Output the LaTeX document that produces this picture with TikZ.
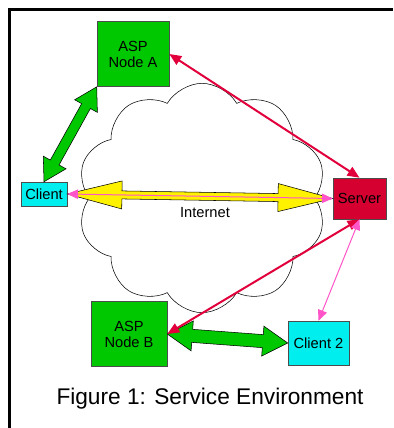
\documentclass[tikz,border=0pt]{standalone}
\usepackage{fontspec}
\setmainfont{Liberation Sans}
\usetikzlibrary{arrows.meta}
\usetikzlibrary{shapes.symbols}
\definecolor{aspgreen}{RGB}{0,200,0}
\definecolor{clientcyan}{RGB}{0,238,238}
\definecolor{servercrimson}{RGB}{214,0,48}
\definecolor{linkred}{RGB}{225,0,60}
\definecolor{linkpink}{RGB}{255,85,200}
\newcommand{\NodeAngle}[2]{%
    \pgfmathanglebetweenpoints%
        {\pgfpointanchor{#1}{center}}%
        {\pgfpointanchor{#2}{center}}%
        \global\let\MyAngle\pgfmathresult
}
\makeatletter
\newcommand{\NodeDist}[2]{%
    \pgfpointdiff{\pgfpointanchor{#1}{center}}
                 {\pgfpointanchor{#2}{center}}
    \pgf@xa=\pgf@x
    \pgf@ya=\pgf@y
    % distance kept in pt
    \pgfmathparse{veclen(\pgf@xa,\pgf@ya)}
    \global\let\MyDist\pgfmathresult
}
\makeatother
% block arrow: start, end, shaft half width, head half width, head length, fill
\newcommand{\BlockArrow}[6]{%
    \NodeDist{#1}{#2}
    \NodeAngle{#1}{#2}
    \pgfmathsetmacro{\Lb}{\MyDist-#5}
    \begin{scope}[shift={(#1)},rotate=\MyAngle]
    \draw[fill=#6,line join=miter] (0,0) -- (#5pt,#4pt) -- (#5pt,#3pt)
        -- (\Lb pt,#3pt) -- (\Lb pt,#4pt) -- (\MyDist pt,0)
        -- (\Lb pt,-#4pt) -- (\Lb pt,-#3pt)
        -- (#5pt,-#3pt) -- (#5pt,-#4pt) -- cycle ;
    \end{scope}
}
\tikzset{
    box/.style={draw=black!70,text=black,align=center,inner sep=0pt,
        font=\fontsize{11}{12}\selectfont},
    aspbox/.style={box,fill=aspgreen},
    clientbox/.style={box,fill=clientcyan},
    serverbox/.style={box,fill=servercrimson},
    redlink/.style={draw=linkred,line width=1.5pt,
        {Triangle[length=9pt,width=7.5pt]}-{Triangle[length=9pt,width=7.5pt]}},
    pinklink/.style={draw=linkpink,line width=0.75pt,
        {Triangle[length=8pt,width=7pt]}-{Triangle[length=8pt,width=7pt]}}
}
\begin{document}
\begin{tikzpicture}[x=0.75pt,y=-0.75pt]
\useasboundingbox (0,0) rectangle (393,428);
\draw[line width=2.25pt] (9.5,428) -- (9.5,9.5) -- (393,9.5);

% the internet
\node[cloud,draw,cloud puffs=10,cloud puff arc=120,cloud ignores aspect,
    minimum width=187pt,minimum height=172pt,inner sep=0pt] (net) at (202,198) {};
\node[anchor=base,font=\fontsize{11}{12}\selectfont] (netlabel) at (205,217) {Internet};

% machines
\node[aspbox,minimum width=54pt,minimum height=48.75pt] (aspA) at (133,54) {ASP\\Node A};
\node[clientbox,minimum width=34.5pt,minimum height=18pt] (client) at (44,194) {Client};
\node[serverbox,minimum width=39.75pt,minimum height=30.75pt] (server) at (359.5,198.5) {Server};
\node[aspbox,minimum width=57pt,minimum height=48.75pt] (aspB) at (129,334) {ASP\\Node B};
\node[clientbox,minimum width=45.75pt,minimum height=33pt] (client2) at (318.5,343) {Client 2};

\coordinate (cA) at (client.north);
\coordinate (aC) at (aspA.south west);
\coordinate (cS) at (client.east);
\coordinate (sC) at (server.west);
\coordinate (bC) at (aspB.east);
\coordinate (c2B) at (client2.west);

% block arrows
\BlockArrow{cS}{sC}{3}{10.5}{41}{yellow}
\BlockArrow{cA}{aC}{3.75}{9.75}{16.5}{aspgreen}
\BlockArrow{bC}{c2B}{4.9}{11.25}{18.75}{aspgreen}

% thin links
\draw[pinklink] (client.east) -- (server.west);
\draw[redlink] (aspA.east) -- (server.north);
\draw[redlink] (server.south) -- (aspB.east);
\draw[pinklink] (server.south) -- (client2.north);

\node[anchor=base,font=\fontsize{17}{20}\selectfont] (caption) at (210,404) {Figure 1: Service Environment};
\end{tikzpicture}
\end{document}
